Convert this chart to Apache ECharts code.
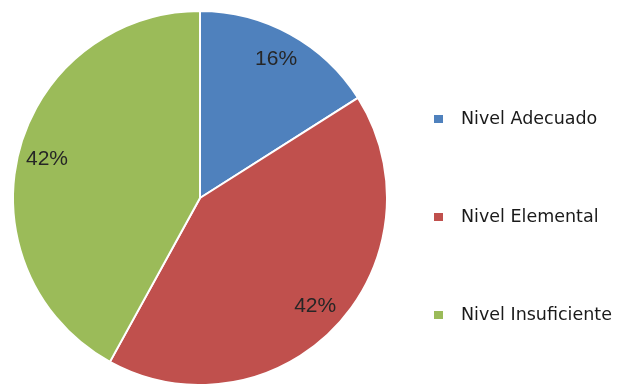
<!DOCTYPE html>
<html>
<head>
<meta charset="utf-8">
<script src="https://cdn.jsdelivr.net/npm/echarts@6/dist/echarts.min.js"></script>
<style>
  html, body { margin: 0; padding: 0; background: #ffffff; }
  #chart { width: 628px; height: 384px; }
</style>
</head>
<body>
<div id="chart"></div>
<script>
// Distribución por nivel de desempeño
const categories = ['Nivel Adecuado', 'Nivel Elemental', 'Nivel Insuficiente'];
const percentages = [16, 42, 42];
const colors = ['#4F81BD', '#C0504D', '#9BBB59'];

const slices = categories.map((name, i) => ({
  name: name,
  value: percentages[i],
  itemStyle: { color: colors[i] }
}));

const center = [200, 198];
const outerR = 187;

const chart = echarts.init(document.getElementById('chart'), null, { renderer: 'canvas' });
chart.setOption({
  animation: false,
  backgroundColor: '#ffffff',
  legend: {
    orient: 'vertical',
    left: 427,
    top: 103,
    itemWidth: 11,
    itemHeight: 10,
    itemGap: 76,
    icon: 'rect',
    data: categories,
    textStyle: {
      fontFamily: 'DejaVu Sans',
      fontSize: 17.5,
      color: '#1a1a1a',
      lineHeight: 22,
      padding: [0, 0, 0, 12]
    }
  },
  series: [
    {
      type: 'pie',
      center: center,
      radius: [0, outerR],
      startAngle: 90,
      clockwise: true,
      data: slices,
      label: { show: false },
      labelLine: { show: false },
      itemStyle: { borderColor: '#ffffff', borderWidth: 2 },
      emphasis: { disabled: true }
    },
    {
      // transparent ring that carries the percentage labels
      type: 'pie',
      center: center,
      radius: [123, outerR],
      startAngle: 90,
      clockwise: true,
      silent: true,
      data: slices.map(d => ({ name: d.name, value: d.value })),
      itemStyle: { color: 'rgba(0,0,0,0)', borderWidth: 0 },
      label: {
        show: true,
        position: 'inside',
        formatter: p => p.value + '%',
        fontFamily: 'Liberation Sans',
        fontSize: 21,
        color: '#262626'
      },
      labelLine: { show: false },
      emphasis: { disabled: true }
    }
  ]
});
</script>
</body>
</html>
